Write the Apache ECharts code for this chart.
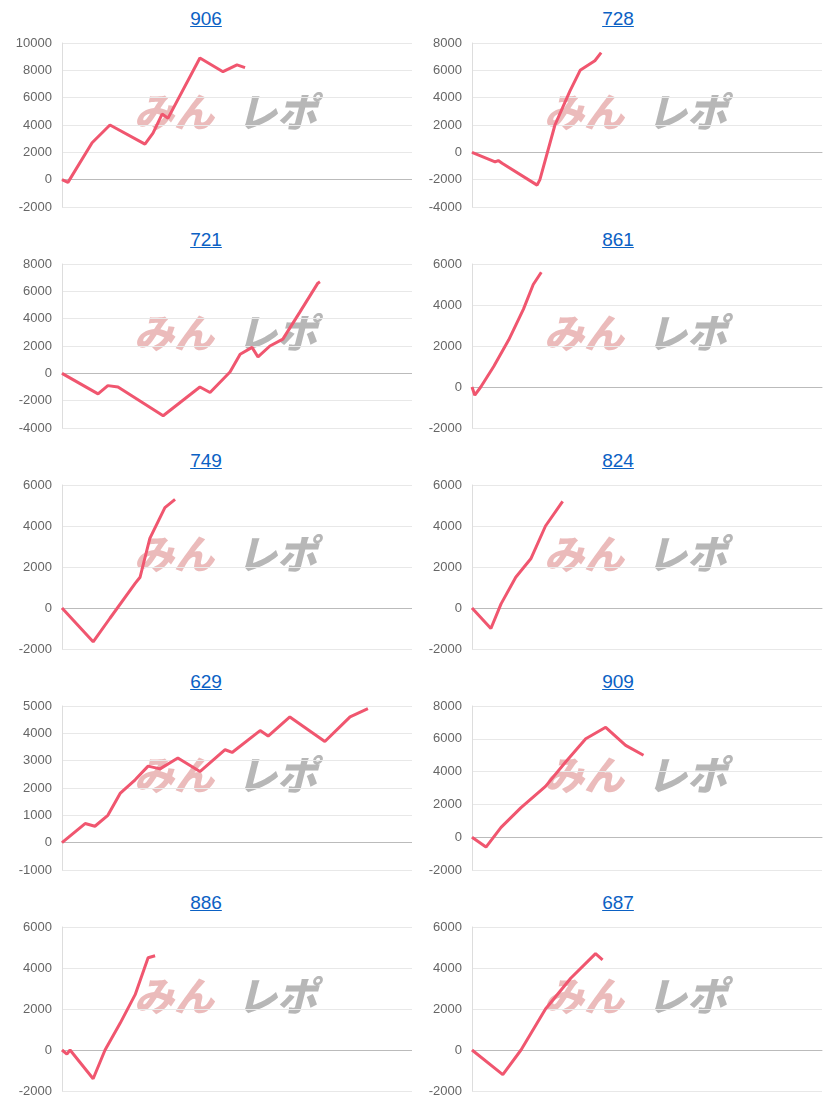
<!DOCTYPE html>
<html><head><meta charset="utf-8">
<script src="https://cdn.jsdelivr.net/npm/echarts@6/dist/echarts.min.js"></script>
<style>
body{margin:0;background:#fff;font-family:Arial,"Liberation Sans",sans-serif;}
#wrap{position:relative;width:824px;height:1110px;}
.p{position:absolute;width:412px;height:221px;}
.t{position:absolute;top:8px;left:0;width:100%;text-align:center;font-size:19px;}
.t a{color:#0b61c4;text-decoration:underline;}
.c{position:absolute;top:30px;left:0;width:412px;height:191px;}
</style></head><body><div id="wrap"></div>
<script>
const titles = ['906','728','721','861','749','824','629','909','886','687'];
const xs906 = [0,1.7,8.6,13.7,23.7,26,28.6,30.3,39.4,46,50,52.3];
const ys906 = [0,-200,2700,4000,2600,3400,4800,4500,8900,7900,8400,8200];
const xs728 = [0,6.6,7.5,8.6,18.6,19.4,23.7,28,30.9,35.1,36.9];
const ys728 = [0,-700,-600,-800,-2400,-2000,2000,4500,6000,6700,7300];
const xs721 = [0,10.3,13.1,16,28.9,39.4,42.3,48,50.9,54.3,56,59.4,63.1,68,73.1,73.7];
const ys721 = [0,-1500,-900,-1000,-3100,-1000,-1400,100,1400,1900,1200,2000,2500,4500,6600,6700];
const xs861 = [0,0.8,2.5,6.2,10.5,14.7,17.5,19.8];
const ys861 = [0,-400,0,1000,2300,3800,5000,5600];
const xs749 = [0,8.9,13.7,20.9,22.3,25.1,29.4,32.3];
const ys749 = [0,-1650,-500,1200,1500,3400,4900,5300];
const xs824 = [0,5.4,8.3,12.5,16.8,21,25.9];
const ys824 = [0,-1000,200,1500,2400,4000,5200];
const xs629 = [0,6.6,9.4,13.1,16.6,20.9,24.6,28,33.1,39.4,46.6,48.6,56.6,58.9,65.1,75.1,82.3,87.4];
const ys629 = [0,700,600,1000,1800,2300,2800,2700,3100,2600,3400,3300,4100,3900,4600,3700,4600,4900];
const xs909 = [0,4,8.3,14,21,26.8,32.5,38.2,43.9,49];
const ys909 = [0,-600,600,1800,3100,4600,6000,6700,5600,5000];
const xs886 = [0,1.4,2.3,8.9,12.3,16.6,20.9,24.6,26.6];
const ys886 = [0,-200,0,-1400,0,1300,2700,4500,4600];
const xs687 = [0,8.8,14,21,28.2,35.3,37.3];
const ys687 = [0,-1200,0,2000,3500,4700,4400];
const yMins = [-2000,-4000,-4000,-2000,-2000,-2000,-1000,-2000,-2000,-2000];
const yMaxs = [10000,8000,8000,6000,6000,6000,5000,8000,6000,6000];
const yInts = [2000,2000,2000,2000,2000,2000,1000,2000,2000,2000];
const XS=[xs906,xs728,xs721,xs861,xs749,xs824,xs629,xs909,xs886,xs687];
const YS=[ys906,ys728,ys721,ys861,ys749,ys824,ys629,ys909,ys886,ys687];
const wrap=document.getElementById('wrap');
titles.forEach((t,i)=>{
  const col=i%2,row=Math.floor(i/2);
  const p=document.createElement('div');p.className='p';
  p.style.left=(col*412)+'px';p.style.top=(row*221)+'px';
  p.innerHTML='<div class="t"><a href="#">'+t+'</a></div><div class="c"></div>';
  wrap.appendChild(p);
  const ch=echarts.init(p.querySelector('.c'));
  const left=col?60:62;
  ch.setOption({
    animation:false,
    grid:{left:left,right:col?2:0,top:13,bottom:14},
    xAxis:{type:'value',min:0,max:100,show:true,axisLabel:{show:false},axisTick:{show:false},splitLine:{show:false},
      axisLine:{show:true,onZero:true,lineStyle:{color:'#bbb'}}},
    yAxis:{type:'value',min:yMins[i],max:yMaxs[i],interval:yInts[i],
      axisLine:{show:true,lineStyle:{color:'#ddd'}},axisTick:{show:false},
      axisLabel:{color:'#666',fontSize:13,margin:10,formatter:v=>String(v)},
      splitLine:{lineStyle:{color:'#e8e8e8'}}},
    graphic:[
      {type:'text',left:left+72,top:62,z:0,style:{text:'みん',font:'italic 900 40px "Noto Sans CJK JP"',fill:'rgba(225,150,150,0.65)'}},
      {type:'text',left:left+175,top:62,z:0,style:{text:'レポ',font:'italic 900 40px "Noto Sans CJK JP"',fill:'rgba(165,165,165,0.8)'}}
    ],
    series:[{type:'line',z:10,showSymbol:false,data:XS[i].map((x,k)=>[x,YS[i][k]]),
      lineStyle:{color:'#f0566f',width:3},itemStyle:{color:'#f0566f'}}]
  });
});
</script></body></html>
